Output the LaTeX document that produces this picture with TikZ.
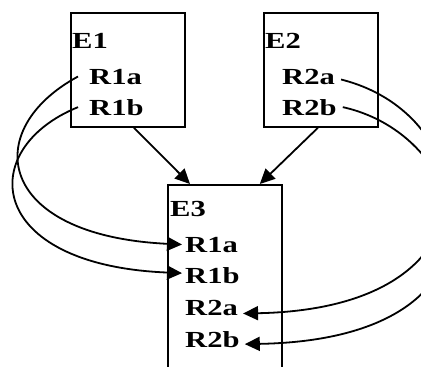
\documentclass[tikz,border=0pt]{standalone}
\usepackage{fontspec}
\newfontfamily\lblfont[FakeStretch=1.33]{Liberation Serif}
\usetikzlibrary{calc,arrows.meta}
\begin{document}
\begin{tikzpicture}[x=1pt,y=-1pt,
  box/.style={draw,line width=1.8pt,inner sep=0,minimum width=114pt,minimum height=114pt,anchor=north west},
  lbl/.style={anchor=base west,inner sep=0,font=\lblfont\bfseries\fontsize{23}{23}\selectfont},
  link/.style={line width=1.8pt,-{Triangle[length=15pt,width=14pt]}}]
\useasboundingbox (0,0) rectangle (421,367);
\clip (0,0) rectangle (421,367);
% boxes
\node[box] (E1) at (70,12) {};
\node[box] (E2) at (263,12) {};
\node[box,minimum height=260pt] (E3) at (167,184) {};
% labels E1
\node[lbl] (t1) at (72,48) {E1};
\node[lbl] (a1) at (89,84) {R1a};
\node[lbl] (b1) at (89,115) {R1b};
% labels E2
\node[lbl] (t2) at (265,48) {E2};
\node[lbl] (c2) at (282,84) {R2a};
\node[lbl] (d2) at (282,115) {R2b};
% labels E3
\node[lbl] (t3) at (170,216) {E3};
\node[lbl] (a3) at (185,252) {R1a};
\node[lbl] (b3) at (185,283) {R1b};
\node[lbl] (c3) at (185,315) {R2a};
\node[lbl] (d3) at (185,347) {R2b};
% straight arrows
\draw[link] ($(E1.south)+(6,0)$) -- ($(E3.north west)+(23,0)$);
\draw[link] ($(E2.south)+(-3,0)$) -- ($(E3.north east)+(-23,0)$);
% left curves
\draw[link] ($(a1.west)+(-11,0)$) .. controls +(-98,53) and +(-187,-9) .. ($(a3.west)+(-3,0)$);
\draw[link] ($(b1.west)+(-11,0)$) .. controls +(-103,42) and +(-197,-8) .. ($(b3.west)+(-3,-2)$);
% right curves
\draw[link] ($(c2.east)+(6,3)$) .. controls +(140,35) and +(262,-5) .. ($(c3.east)+(5,6)$);
\draw[link] ($(d2.east)+(6,0)$) .. controls +(135,30) and +(278,-5) .. ($(d3.east)+(5,5)$);
\end{tikzpicture}
\end{document}
